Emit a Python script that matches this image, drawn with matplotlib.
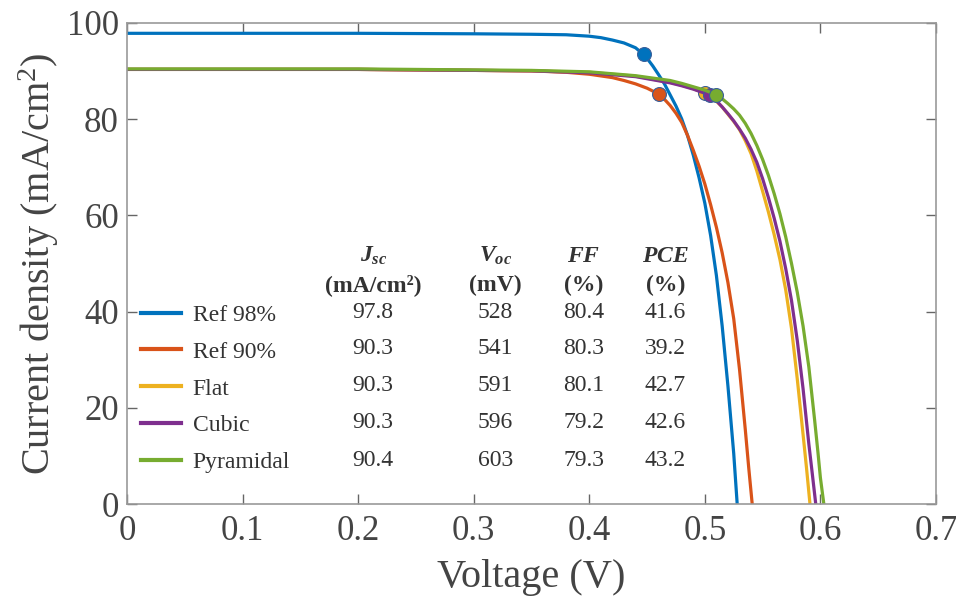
import matplotlib
matplotlib.use("Agg")
import matplotlib.pyplot as plt

# fonts (Times-like)
plt.rcParams["font.family"] = "serif"
plt.rcParams["font.serif"] = ["Liberation Serif", "DejaVu Serif"]
plt.rcParams["mathtext.fontset"] = "custom"
plt.rcParams["mathtext.rm"] = "Liberation Serif"
plt.rcParams["mathtext.it"] = "Liberation Serif:italic:bold"
plt.rcParams["mathtext.bf"] = "Liberation Serif:bold"

# ============================
# data
# ============================
names = ["Ref 98%", "Ref 90%", "Flat", "Cubic", "Pyramidal"]
colors = ["#0072BD", "#D95319", "#EDB120", "#7E2F8E", "#77AC30"]

v_ref98 = [0, 0.1, 0.2, 0.3, 0.35, 0.38, 0.40, 0.41, 0.42, 0.43, 0.44, 0.446,
           0.45, 0.455, 0.46, 0.465, 0.47, 0.475, 0.48, 0.485, 0.49, 0.495,
           0.50, 0.505, 0.51, 0.515, 0.52, 0.525, 0.528]
j_ref98 = [97.8, 97.8, 97.8, 97.7, 97.6, 97.5, 97.2, 96.9, 96.4, 95.8, 94.8, 93.6,
           92.6, 91.0, 89.2, 87.3, 85.0, 82.7, 80.0, 76.6, 72.5, 67.8,
           62.5, 55.8, 47.5, 37.0, 24.5, 10.5, 0]

v_ref90 = [0, 0.1, 0.2, 0.3, 0.35, 0.38, 0.40, 0.42, 0.43, 0.44, 0.45, 0.46,
           0.465, 0.47, 0.475, 0.48, 0.485, 0.49, 0.495, 0.50, 0.505, 0.51,
           0.515, 0.52, 0.525, 0.53, 0.535, 0.538, 0.541]
j_ref90 = [90.3, 90.3, 90.3, 90.1, 90.0, 89.7, 89.3, 88.6, 88.0, 87.3, 86.4, 85.2,
           84.1, 82.8, 81.2, 79.3, 76.6, 73.5, 70.2, 66.5, 62.2, 57.5,
           52.2, 46.0, 38.5, 28.0, 15.5, 7.5, 0]

v_flat = [0, 0.1, 0.2, 0.3, 0.35, 0.40, 0.44, 0.47, 0.48, 0.49, 0.5005, 0.505,
          0.51, 0.515, 0.52, 0.525, 0.53, 0.535, 0.54, 0.545, 0.55, 0.555,
          0.56, 0.565, 0.57, 0.575, 0.58, 0.585, 0.588, 0.591]
j_flat = [90.3, 90.3, 90.3, 90.1, 90.0, 89.7, 88.9, 87.6, 87.0, 86.3, 85.3, 84.7,
          83.7, 82.5, 81.0, 79.5, 77.8, 75.5, 72.8, 69.2, 65.0, 60.7,
          56.0, 50.8, 44.5, 36.5, 26.0, 14.5, 7.5, 0]

v_cubic = [0, 0.1, 0.2, 0.3, 0.35, 0.40, 0.44, 0.47, 0.48, 0.49, 0.497, 0.5045,
           0.51, 0.515, 0.52, 0.525, 0.53, 0.535, 0.54, 0.545, 0.55, 0.555,
           0.56, 0.565, 0.57, 0.575, 0.58, 0.585, 0.59, 0.593, 0.596]
j_cubic = [90.3, 90.3, 90.3, 90.1, 90.0, 89.6, 88.8, 87.5, 86.9, 86.2, 85.6, 85.0,
           83.8, 82.5, 81.1, 79.6, 77.9, 76.0, 73.7, 71.0, 67.6, 63.7,
           59.4, 54.6, 48.9, 42.3, 34.0, 24.0, 12.5, 6.3, 0]

v_pyr = [0, 0.1, 0.2, 0.3, 0.35, 0.40, 0.44, 0.47, 0.48, 0.49, 0.50, 0.510,
         0.515, 0.52, 0.525, 0.53, 0.535, 0.54, 0.545, 0.55, 0.555, 0.56,
         0.565, 0.57, 0.575, 0.58, 0.585, 0.59, 0.595, 0.598, 0.60, 0.603]
j_pyr = [90.4, 90.4, 90.4, 90.2, 90.1, 89.8, 89.0, 88.0, 87.4, 86.7, 86.0, 85.0,
         84.2, 83.2, 82.1, 80.8, 79.1, 77.0, 74.5, 71.6, 68.3, 64.5,
         60.3, 55.5, 50.0, 44.0, 37.0, 28.5, 17.5, 10.5, 5.5, 0]

# maximum power points
v_mpp = [0.447, 0.460, 0.5005, 0.5045, 0.510]
j_mpp = [93.4, 85.2, 85.3, 85.0, 85.0]

# table values
jsc = ["97.8", "90.3", "90.3", "90.3", "90.4"]
voc = ["528", "541", "591", "596", "603"]
ff = ["80.4", "80.3", "80.1", "79.2", "79.3"]
pce = ["41.6", "39.2", "42.7", "42.6", "43.2"]

curves = [(v_ref98, j_ref98), (v_ref90, j_ref90), (v_flat, j_flat),
          (v_cubic, j_cubic), (v_pyr, j_pyr)]

# ============================
# plot
# ============================
fig = plt.figure(figsize=(9.56, 5.98), dpi=100)
ax = fig.add_axes([0.133, 0.157, 0.846, 0.805])

handles = []
for i, (v, j) in enumerate(curves):
    h, = ax.plot(v, j, color=colors[i], lw=2.3, label=names[i])
    ax.plot(v_mpp[i], j_mpp[i], "o", color=colors[i], ms=10,
            mec="#3a5f9a", mew=0.8)
    handles.append(h)

ax.set_xlim(0, 0.7)
ax.set_ylim(0, 100)
ax.set_xticks([0, 0.1, 0.2, 0.3, 0.4, 0.5, 0.6, 0.7])
ax.set_xticklabels(["0", "0.1", "0.2", "0.3", "0.4", "0.5", "0.6", "0.7"])
ax.set_yticks([0, 20, 40, 60, 80, 100])

txt_c = "#444444"
ax.tick_params(direction="in", length=7, width=1, colors="#666666",
               labelcolor=txt_c, labelsize=25, top=True, right=True)
ax.tick_params(axis="x", pad=8)
ax.tick_params(axis="y", pad=6)
for s in ax.spines.values():
    s.set_color("#999999")
    s.set_linewidth(1.2)

ax.set_xlabel("Voltage (V)", fontsize=29, color=txt_c, labelpad=8)
ax.set_ylabel("Current density (mA/cm$^2$)", fontsize=29, color=txt_c,
              labelpad=4)

leg = ax.legend(handles=handles, loc="upper left",
                bbox_to_anchor=(0.017, 0.415), frameon=False, fontsize=17,
                handlelength=1.7, handletextpad=0.5, labelspacing=0.65,
                borderpad=0, borderaxespad=0)
for t in leg.get_texts():
    t.set_color("#333333")
for lh in leg.get_lines():
    lh.set_linewidth(3)

# table
col_x = [0.213, 0.3186, 0.395, 0.466]
row_y = [39.9, 32.4, 24.7, 17.0, 9.1]
head1 = ["$J_{sc}$", "$V_{oc}$", "$FF$", "$PCE$"]
head2 = ["(mA/cm²)", "(mV)", "(%)", "(%)"]
for k in range(4):
    ax.text(col_x[k], 51.5, head1[k], ha="center", va="center",
            fontsize=17, color="#333333")
    ax.text(col_x[k], 45.5, head2[k], ha="center", va="center",
            fontsize=17, fontweight="bold", color="#333333")
cols = [jsc, voc, ff, pce]
for k in range(4):
    for r in range(5):
        ax.text(col_x[k], row_y[r], cols[k][r], ha="center", va="center",
                fontsize=17, color="#333333")

plt.savefig("out.png", dpi=100)
plt.close()
